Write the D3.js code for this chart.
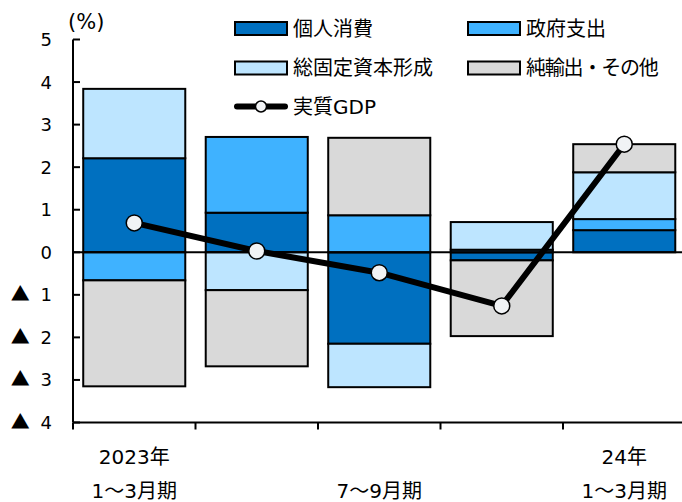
<!DOCTYPE html>
<html>
<head>
<meta charset="utf-8">
<script src="https://cdn.jsdelivr.net/npm/d3@7"></script>
<style>
  html, body { margin: 0; padding: 0; background: #fff; }
  svg { display: block; }
  text { font-family: "DejaVu Sans", "Noto Sans CJK JP", sans-serif; fill: #000; }
  .cjk { font-family: "Noto Sans CJK JP", sans-serif; }
</style>
</head>
<body>
<svg id="chart" width="682" height="502"></svg>
<script>
// Contribution to real GDP growth (percentage points), by quarter
const quarters = ["2023Q1", "2023Q2", "2023Q3", "2023Q4", "2024Q1"];
const consumption = [2.21, 0.93, -2.15, -0.19, 0.52];   // 個人消費
const government = [-0.66, 1.78, 0.87, 0.06, 0.26];     // 政府支出
const investment = [1.63, -0.89, -1.02, 0.65, 1.10];    // 総固定資本形成
const netExports = [-2.49, -1.79, 1.82, -1.78, 0.66];   // 純輸出・その他
const realGDP = [0.69, 0.03, -0.48, -1.26, 2.54];       // 実質GDP

const seriesNames = ["個人消費", "政府支出", "総固定資本形成", "純輸出・その他"];
const seriesColors = ["#0070c0", "#3fb2ff", "#bde5ff", "#d9d9d9"];
const yTicks = [5, 4, 3, 2, 1, 0, -1, -2, -3, -4];
const xLabelTop = ["2023年", "", "", "", "24年"];
const xLabelBottom = ["1～3月期", "", "7～9月期", "", "1～3月期"];

const rows = quarters.map((q, i) => ({
  q,
  "個人消費": consumption[i],
  "政府支出": government[i],
  "総固定資本形成": investment[i],
  "純輸出・その他": netExports[i]
}));

const svg = d3.select("#chart");

const x = d3.scaleBand()
  .domain(quarters)
  .range([73, 685.5])
  .paddingInner(0.167)
  .paddingOuter(0.0835);

const y = d3.scaleLinear().domain([-4, 5]).range([422.5, 39.5]);

const stacked = d3.stack()
  .keys(seriesNames)
  .order(d3.stackOrderNone)
  .offset(d3.stackOffsetDiverging)(rows);

// Stacked bars
svg.append("g")
  .selectAll("g")
  .data(stacked)
  .join("g")
  .attr("fill", (d, i) => seriesColors[i])
  .selectAll("rect")
  .data(d => d)
  .join("rect")
  .attr("x", d => x(d.data.q))
  .attr("width", x.bandwidth())
  .attr("y", d => y(Math.max(d[0], d[1])))
  .attr("height", d => Math.abs(y(d[0]) - y(d[1])))
  .attr("stroke", "#000")
  .attr("stroke-width", 2);

// Zero line
svg.append("line")
  .attr("x1", 73).attr("x2", 682)
  .attr("y1", y(0)).attr("y2", y(0))
  .attr("stroke", "#000").attr("stroke-width", 2);

// Y axis (ticks point inward); negatives are written with ▲
const yAxis = svg.append("g").attr("transform", "translate(73,0)");
yAxis.append("line")
  .attr("x1", 0).attr("x2", 0)
  .attr("y1", y(5)).attr("y2", y(-4))
  .attr("stroke", "#000").attr("stroke-width", 2);
yAxis.selectAll("line.tick")
  .data(yTicks)
  .join("line")
  .attr("class", "tick")
  .attr("x1", 0).attr("x2", 7)
  .attr("y1", d => y(d)).attr("y2", d => y(d))
  .attr("stroke", "#000").attr("stroke-width", 2);
const yLabels = yAxis.selectAll("text")
  .data(yTicks)
  .join("text")
  .attr("x", -21)
  .attr("y", d => y(d))
  .attr("dy", "0.36em")
  .attr("text-anchor", "end")
  .style("font-size", "18px");
yLabels.filter(d => d < 0).append("tspan")
  .attr("class", "cjk")
  .style("font-size", "19px")
  .text("▲");
yLabels.append("tspan")
  .attr("dx", d => d < 0 ? 5 : 0)
  .text(d => d < 0 ? "\u00a0" + Math.abs(d) : String(d));

svg.append("text")
  .attr("x", 68).attr("y", 21)
  .attr("dy", "0.36em")
  .style("font-size", "21px")
  .text("(%)");

// X axis (ticks at category boundaries, pointing down)
const step = x.step();
const gap = step - x.bandwidth();
const xAxis = svg.append("g");
xAxis.append("line")
  .attr("x1", 73).attr("x2", 682)
  .attr("y1", y(-4)).attr("y2", y(-4))
  .attr("stroke", "#000").attr("stroke-width", 2);
xAxis.selectAll("line.tick")
  .data(quarters)
  .join("line")
  .attr("class", "tick")
  .attr("x1", d => x(d) - gap / 2).attr("x2", d => x(d) - gap / 2)
  .attr("y1", y(-4)).attr("y2", y(-4) + 7)
  .attr("stroke", "#000").attr("stroke-width", 2);
xAxis.selectAll("text.top")
  .data(quarters)
  .join("text")
  .attr("class", "top")
  .attr("x", d => x(d) + x.bandwidth() / 2)
  .attr("y", 457)
  .attr("dy", "0.36em")
  .attr("text-anchor", "middle")
  .style("font-size", "20px")
  .text((d, i) => xLabelTop[i]);
xAxis.selectAll("text.bottom")
  .data(quarters)
  .join("text")
  .attr("class", "bottom")
  .attr("x", d => x(d) + x.bandwidth() / 2)
  .attr("y", 491)
  .attr("dy", "0.36em")
  .attr("text-anchor", "middle")
  .style("font-size", "20px")
  .text((d, i) => xLabelBottom[i]);

// Real GDP line with markers
const gdpPts = quarters.map((q, i) => [x(q) + x.bandwidth() / 2, y(realGDP[i])]);
svg.append("path")
  .attr("d", d3.line()(gdpPts))
  .attr("fill", "none")
  .attr("stroke", "#000")
  .attr("stroke-width", 6)
  .attr("stroke-linejoin", "round");
svg.append("g")
  .selectAll("circle")
  .data(gdpPts)
  .join("circle")
  .attr("cx", d => d[0]).attr("cy", d => d[1])
  .attr("r", 8)
  .attr("fill", "#f1f3f5")
  .attr("stroke", "#000")
  .attr("stroke-width", 1.5);

// Legend
const legend = svg.append("g");
const legendPos = [
  { x: 235, y: 28.5 }, { x: 468, y: 28.5 },
  { x: 235, y: 68 }, { x: 468, y: 68 }
];
seriesNames.forEach((name, i) => {
  const p = legendPos[i];
  legend.append("rect")
    .attr("x", p.x).attr("y", p.y - 6.5)
    .attr("width", 52).attr("height", 13)
    .attr("fill", seriesColors[i])
    .attr("stroke", "#000").attr("stroke-width", 2);
  legend.append("text")
    .attr("x", p.x + 58).attr("y", p.y)
    .attr("dy", "0.36em")
    .style("font-size", "20px")
    .style("letter-spacing", name.includes("・") ? "-1.2px" : "0px")
    .text(name);
});
legend.append("line")
  .attr("x1", 237).attr("x2", 285)
  .attr("y1", 106.5).attr("y2", 106.5)
  .attr("stroke", "#000").attr("stroke-width", 6)
  .attr("stroke-linecap", "round");
legend.append("circle")
  .attr("cx", 261).attr("cy", 106.5).attr("r", 5.5)
  .attr("fill", "#f1f3f5").attr("stroke", "#000").attr("stroke-width", 1.5);
legend.append("text")
  .attr("x", 293).attr("y", 106.5)
  .attr("dy", "0.36em")
  .style("font-size", "20px")
  .text("実質GDP");
</script>
</body>
</html>
